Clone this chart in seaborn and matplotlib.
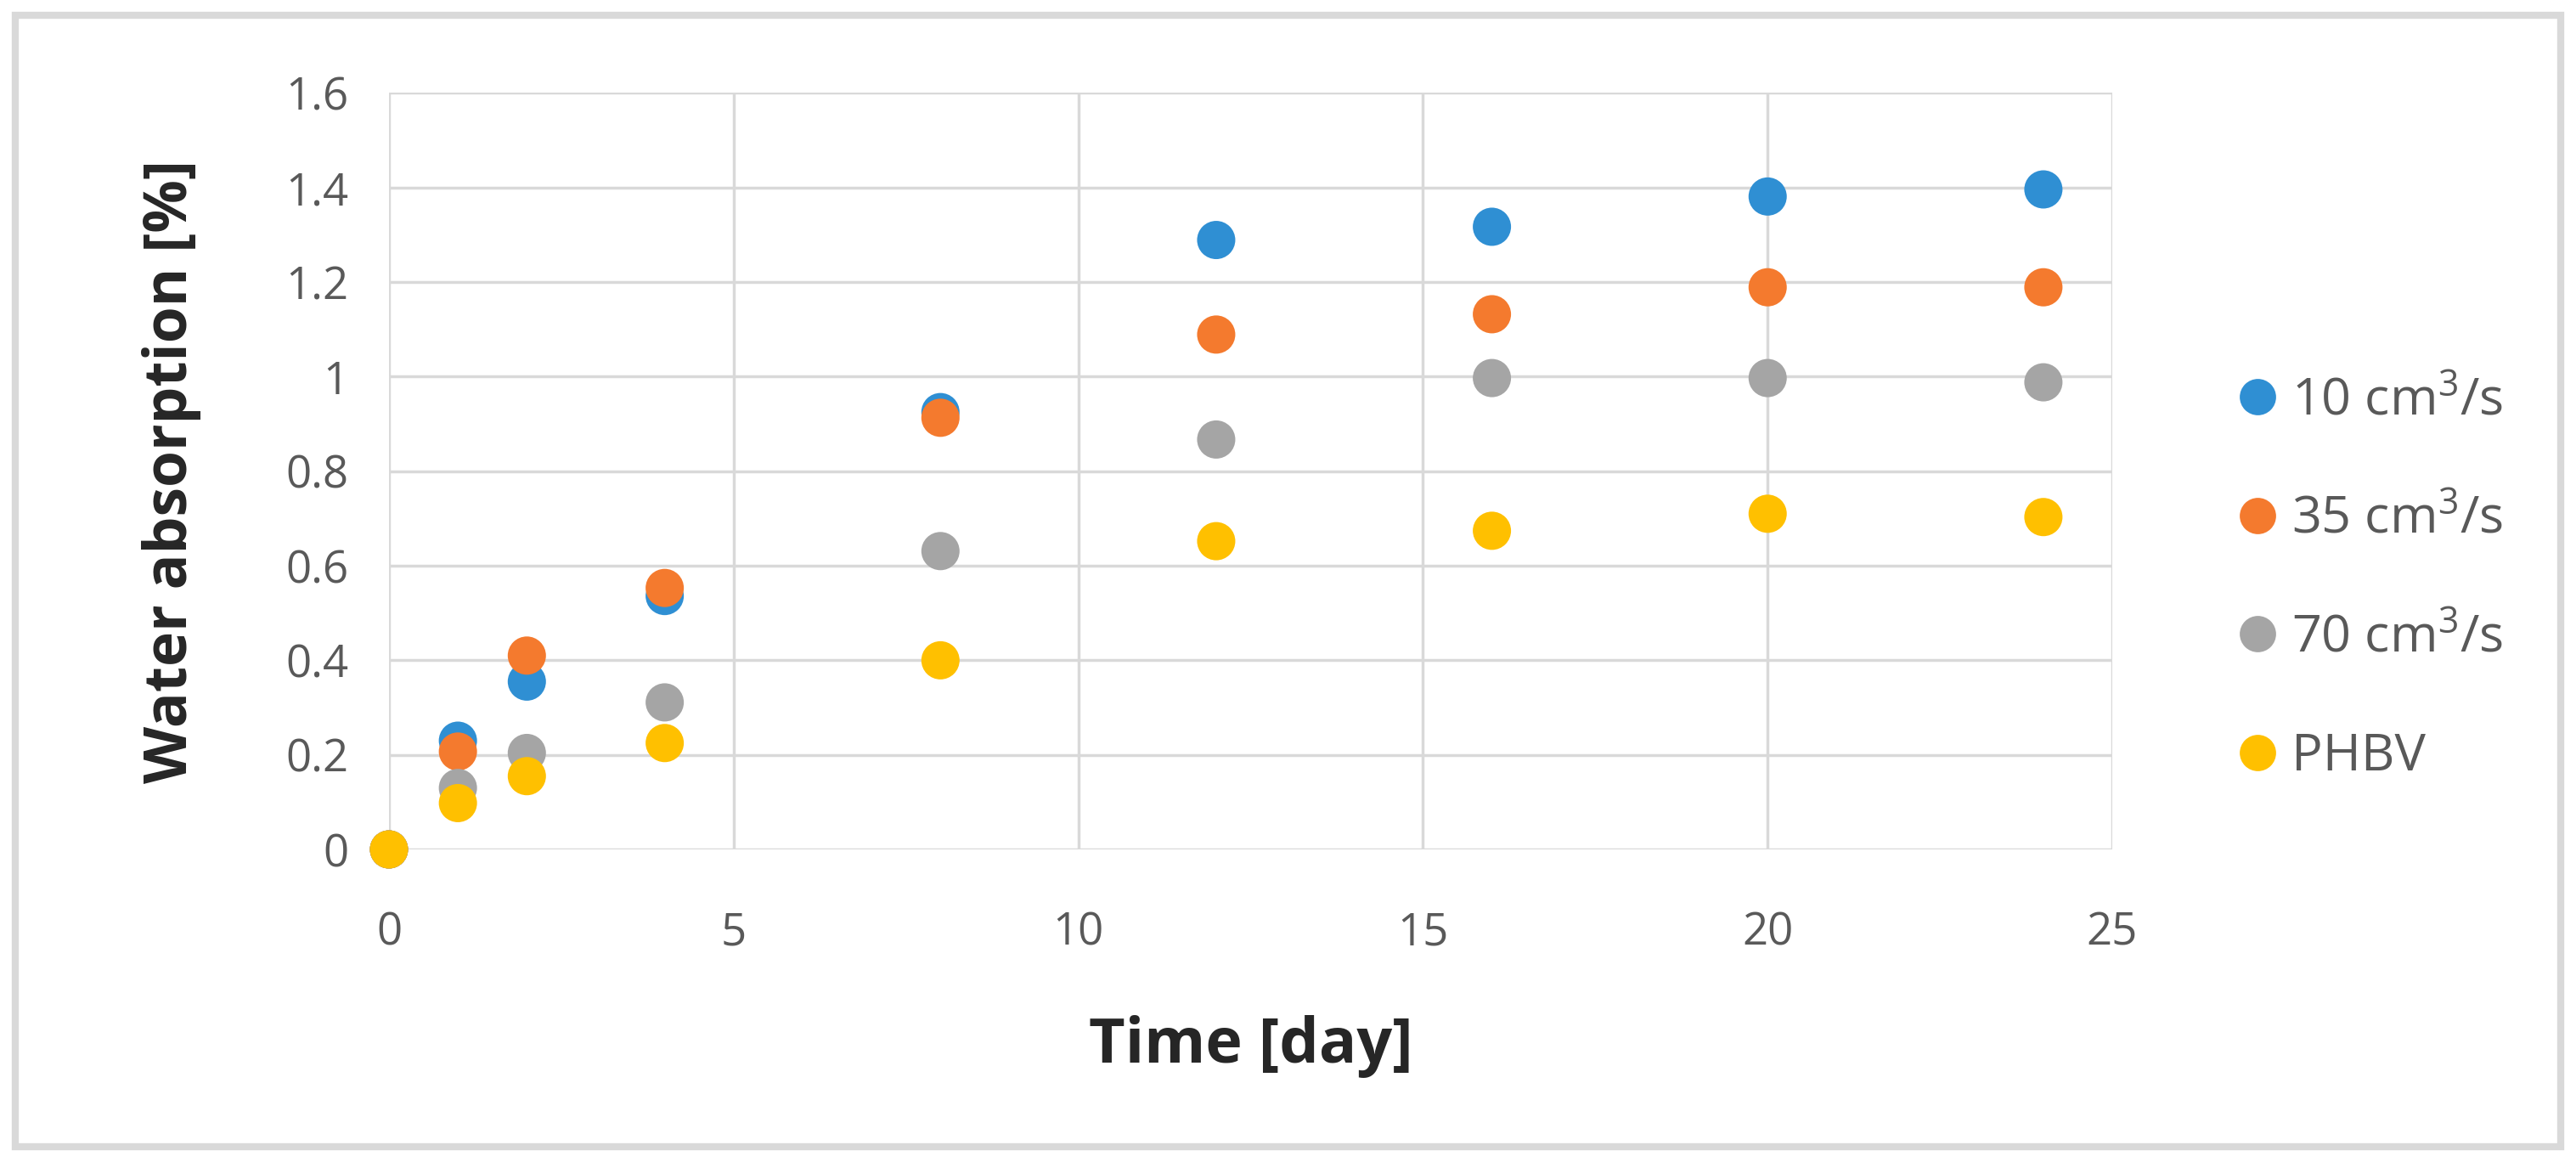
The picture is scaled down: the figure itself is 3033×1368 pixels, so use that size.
import pandas as pd
import seaborn as sns
import matplotlib.pyplot as plt
from matplotlib.patches import Rectangle

# Data
days = [0, 1, 2, 4, 8, 12, 16, 20, 24]
flow_10 = [0, 0.23, 0.355, 0.536, 0.925, 1.289, 1.317, 1.381, 1.396]
flow_35 = [0, 0.207, 0.41, 0.553, 0.913, 1.089, 1.132, 1.189, 1.189]
flow_70 = [0, 0.13, 0.204, 0.311, 0.631, 0.867, 0.997, 0.997, 0.988]
phbv = [0, 0.098, 0.155, 0.225, 0.40, 0.652, 0.674, 0.710, 0.703]

series_names = ["10 cm$^3$/s", "35 cm$^3$/s", "70 cm$^3$/s", "PHBV"]
series_values = [flow_10, flow_35, flow_70, phbv]
colors = ["#2f8fd3", "#f47a2e", "#a5a5a5", "#ffc000"]

rows = []
for name, vals in zip(series_names, series_values):
    for d, v in zip(days, vals):
        rows.append({"day": d, "absorption": v, "series": name})
df = pd.DataFrame(rows)

sns.set_style("white")
plt.rcParams["font.family"] = ["Open Sans", "DejaVu Sans"]
plt.rcParams["mathtext.fontset"] = "custom"
plt.rcParams["mathtext.rm"] = "Open Sans"
plt.rcParams["mathtext.it"] = "Open Sans"

fig = plt.figure(figsize=(30.33, 13.68), dpi=100)
ax = fig.add_axes([0.151, 0.269, 0.669, 0.651])

sns.scatterplot(
    data=df, x="day", y="absorption", hue="series",
    hue_order=series_names, palette=dict(zip(series_names, colors)),
    s=1050, linewidth=0, alpha=1, ax=ax, zorder=3, clip_on=False
)

ax.set_xlim(0, 25)
ax.set_ylim(0, 1.6)
ax.set_xticks([0, 5, 10, 15, 20, 25])
ax.set_yticks([0, 0.2, 0.4, 0.6, 0.8, 1, 1.2, 1.4, 1.6])
ax.set_yticklabels(["0", "0.2", "0.4", "0.6", "0.8", "1", "1.2", "1.4", "1.6"])
ax.grid(True, color="#d9d9d9", linewidth=2.5)
ax.set_axisbelow(True)
for sp in ax.spines.values():
    sp.set_visible(False)
ax.tick_params(axis="both", length=0, labelsize=38, labelcolor="#595959")
ax.tick_params(axis="x", pad=52)
ax.tick_params(axis="y", pad=34)

ax.set_xlabel("Time [day]", fontsize=53, fontweight="bold", labelpad=50)
ax.set_ylabel("Water absorption [%]", fontsize=50, fontweight="bold", labelpad=72)

leg = ax.legend(
    loc="center left", bbox_to_anchor=(0.848, 0.5015),
    bbox_transform=fig.transFigure, frameon=False,
    fontsize=44, labelspacing=1.3, handlelength=1.0, handletextpad=0.17,
    markerscale=0.95, labelcolor="#595959"
)

# light gray outer frame
fig.patches.append(Rectangle((0.006, 0.013), 0.988, 0.974, transform=fig.transFigure,
                             fill=False, edgecolor="#d9d9d9", linewidth=6))

plt.savefig("out.png", dpi=100)
